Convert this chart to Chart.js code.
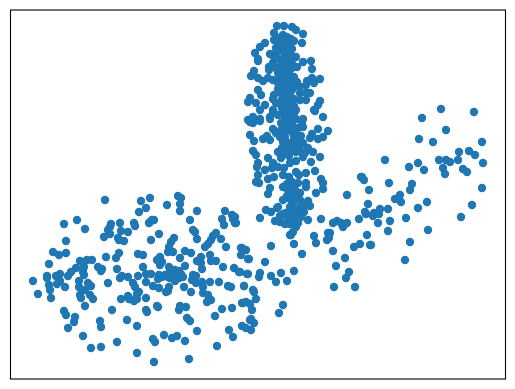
<!DOCTYPE html>
<html>
<head>
<meta charset="utf-8">
<title>Scatter</title>
<script src="https://cdn.jsdelivr.net/npm/chart.js@4/dist/chart.umd.min.js"></script>
<style>
    html, body { margin: 0; padding: 0; background: #fff; }
    canvas { display: block; }
</style>
</head>
<body>
<canvas id="scatterChart" width="515" height="389"></canvas>
<script>
// values, [x, y]
const leftGroup = [[105,189],[77,169],[64,165],[85,160],[111,165],[120,166],[110,162],[108,159],[121,158],[128,157],[110,155],[104,152],[118,151],[119,149],[124,148],[66,148],[53,137],[59,134],[66,136],[119,136],[116,131],[106,132],[49,125],[80,128],[87,129],[92,129],[83,126],[76,121],[84,122],[71,117],[83,117],[98,122],[102,120],[101,118],[117,120],[60,115],[56,113],[47,113],[47,111],[68,113],[84,114],[122,113],[120,111],[128,112],[33,108],[60,108],[57,105],[79,108],[49,104],[65,102],[79,102],[88,106],[91,103],[108,106],[50,99],[85,99],[38,95],[80,94],[81,91],[90,94],[93,90],[51,91],[121,90],[128,93],[129,90],[85,83],[112,79],[64,78],[66,74],[75,72],[74,67],[68,61],[100,68],[101,62],[127,69],[83,53],[117,47],[91,41],[101,42]];

const middleGroup = [[150,191],[141,188],[178,193],[181,191],[180,185],[167,184],[146,181],[180,178],[139,177],[197,178],[225,178],[232,174],[222,170],[233,170],[235,166],[224,164],[190,169],[152,169],[154,169],[150,167],[149,166],[134,166],[135,163],[159,155],[193,159],[195,157],[197,150],[216,156],[213,153],[211,149],[208,145],[205,142],[221,150],[226,142],[174,151],[171,147],[169,142],[151,149],[168,137],[173,137],[185,138],[191,136],[138,135],[143,134],[180,131],[160,132],[157,129],[162,127],[160,124],[201,132],[197,128],[201,126],[202,120],[210,134],[211,128],[216,128],[241,141],[246,139],[241,134],[248,130],[223,122],[234,121],[239,117],[247,115],[143,122],[169,122],[185,123],[175,119],[179,118],[138,113],[146,115],[151,115],[159,114],[165,114],[172,115],[174,111],[179,111],[183,112],[170,111],[158,110],[193,114],[196,113],[192,109],[196,106],[210,107],[219,107],[202,107],[203,102],[228,103],[231,102],[244,103],[133,106],[135,102],[146,107],[153,103],[159,101],[169,102],[168,98],[166,97],[184,102],[191,97],[203,96],[208,94],[211,89],[207,87],[139,97],[137,95],[130,90],[134,88],[137,90],[146,91],[242,86],[246,87],[157,83],[158,82],[180,83],[179,79],[186,82],[146,79],[147,77],[232,81],[222,80],[215,73],[137,63],[187,71],[190,68],[197,58],[229,59],[242,63],[246,61],[233,52],[153,50],[155,47],[164,54],[172,51],[177,53],[185,48],[217,43],[137,36],[189,30],[154,27],[250,69],[242,141],[249,130],[265,127],[294,118],[281,116],[271,113],[276,107],[287,108],[260,116],[259,112],[248,115],[240,117],[244,103],[253,99],[254,97],[256,90],[243,86],[250,85],[252,79],[283,84],[279,76],[251,70],[254,66],[251,59],[168,112],[176,114],[170,118],[181,115],[162,112],[175,108]];

const tallGroup = [[277,363],[284,363],[292,362],[296,359],[303,355],[274,356],[278,351],[265,346],[302,346],[294,348],[260,342],[255,336],[258,330],[258,328],[270,335],[276,341],[281,346],[286,342],[276,336],[284,336],[292,340],[278,330],[288,330],[273,326],[269,322],[269,319],[280,322],[288,324],[296,332],[303,327],[311,328],[312,320],[254,318],[251,313],[258,311],[263,308],[273,309],[281,316],[288,316],[294,312],[282,308],[288,308],[294,304],[312,311],[307,308],[320,310],[314,306],[300,302],[306,304],[258,299],[261,294],[274,294],[278,300],[286,300],[292,299],[300,296],[306,296],[310,296],[250,291],[248,287],[256,286],[265,284],[273,290],[276,286],[286,292],[300,289],[306,289],[320,288],[318,284],[314,279],[260,279],[273,279],[282,281],[288,286],[288,279],[296,279],[323,272],[278,274],[288,274],[294,275],[253,272],[248,269],[260,270],[270,272],[303,270],[285,271],[274,349],[280,340],[284,326],[274,332],[278,316],[278,306],[268,311],[250,267],[253,266],[260,268],[270,270],[273,276],[302,267],[315,278],[318,260],[250,254],[254,248],[263,250],[267,253],[270,249],[273,260],[276,256],[288,266],[288,259],[285,252],[288,246],[294,251],[298,261],[303,262],[312,255],[310,251],[318,250],[323,252],[328,258],[278,237],[285,236],[292,239],[298,242],[303,246],[308,241],[303,232],[313,237],[320,232],[253,238],[256,234],[258,226],[257,222],[268,231],[273,226],[265,219],[272,221],[278,222],[290,226],[284,221],[283,214],[296,217],[299,214],[311,227],[306,216],[315,218],[258,214],[256,207],[259,206],[268,210],[274,212],[321,210],[323,206],[323,200],[316,196],[306,206],[306,202],[270,201],[268,195],[283,202],[292,207],[298,206],[288,199],[295,199],[300,196],[278,182],[283,189],[288,191],[293,186],[300,189],[308,188],[310,183],[298,181],[290,182],[266,179],[271,177],[277,181],[304,177],[298,176],[294,176],[292,171],[260,171],[308,169],[321,170],[275,168],[280,167],[285,165],[287,166],[298,166],[296,162],[291,154],[314,153],[235,172],[236,166],[328,156],[294,145],[271,143],[302,135],[290,154],[293,157],[283,354],[287,352],[291,350],[283,348],[288,345],[279,345],[290,335],[284,331],[292,330],[282,326],[292,325],[285,319],[291,320],[297,322],[276,321],[285,312],[290,311],[279,311],[297,307],[284,304],[290,303],[280,297],[284,296],[296,303],[290,293],[282,290],[294,290],[281,284],[294,283],[284,277],[291,270],[296,270],[281,266],[285,262],[292,264],[281,259],[284,255],[280,252],[292,257],[296,255],[301,253],[283,247],[292,245],[297,248],[287,242],[282,241],[296,237],[301,238],[305,236],[289,233],[281,231],[296,228],[289,212],[293,202],[287,205],[291,196],[287,193],[296,193],[292,188],[304,183],[291,178],[286,176],[301,172],[287,172],[283,175],[297,170],[280,173],[290,165]];

const rightGroup = [[347,194],[361,212],[364,209],[369,199],[368,185],[365,177],[366,175],[359,170],[333,166],[337,168],[341,166],[347,166],[343,162],[330,156],[316,146],[327,149],[329,151],[354,142],[360,145],[367,154],[370,144],[333,138],[345,131],[336,123],[349,117],[346,111],[334,102],[355,102],[441,280],[474,277],[422,271],[446,259],[419,250],[433,247],[482,247],[469,238],[459,237],[475,234],[385,229],[439,229],[446,229],[450,227],[458,229],[483,226],[418,226],[409,222],[424,219],[443,221],[445,215],[463,220],[467,217],[362,212],[389,206],[412,205],[410,199],[482,201],[400,194],[395,190],[401,187],[427,187],[472,184],[418,181],[388,180],[380,180],[374,176],[373,173],[379,175],[406,171],[461,172],[390,168],[378,166],[388,158],[428,159],[410,147],[371,144],[405,129]];

const xLimits = [10.5, 505.5];
const yLimits = [10, 379];

const allPoints = [...leftGroup, ...middleGroup, ...tallGroup, ...rightGroup].map(p => ({ x: p[0], y: p[1] }));

// axes box, ticks are switched off in the original
const frameBox = {
    id: 'frameBox',
    afterDatasetsDraw(chart) {
        const { ctx, chartArea } = chart;
        ctx.save();
        ctx.strokeStyle = '#000';
        ctx.lineWidth = 1.1;
        ctx.strokeRect(chartArea.left, chartArea.top, chartArea.right - chartArea.left, chartArea.bottom - chartArea.top);
        ctx.restore();
    }
};

new Chart(document.getElementById('scatterChart').getContext('2d'), {
    type: 'scatter',
    data: {
        datasets: [{
            data: allPoints,
            backgroundColor: '#1f77b4',
            borderWidth: 0,
            pointRadius: 4.2,
            pointHoverRadius: 4.2
        }]
    },
    options: {
        responsive: false,
        animation: false,
        devicePixelRatio: 1,
        layout: { padding: { left: 10.5, right: 9.5, top: 10, bottom: 10 } },
        plugins: { legend: { display: false }, tooltip: { enabled: false } },
        scales: {
            x: { type: 'linear', display: false, min: xLimits[0], max: xLimits[1] },
            y: { type: 'linear', display: false, min: yLimits[0], max: yLimits[1] }
        }
    },
    plugins: [frameBox]
});
</script>
</body>
</html>
